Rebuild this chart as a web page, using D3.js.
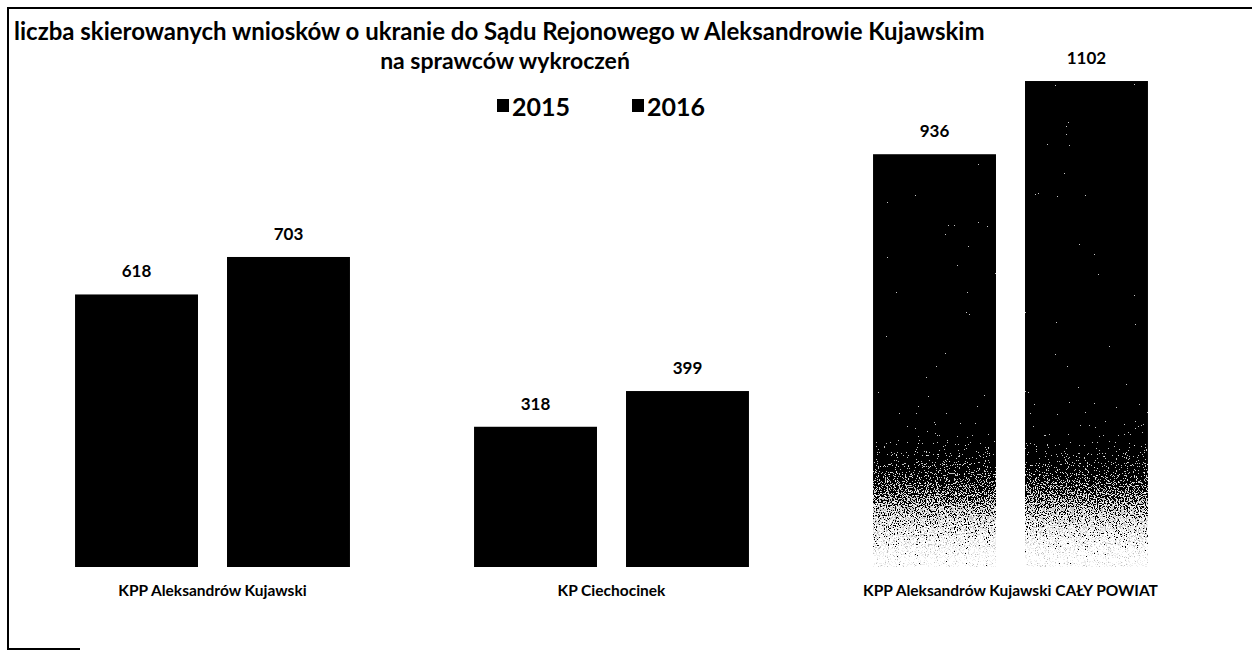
<!DOCTYPE html>
<html lang="pl">
<head>
<meta charset="UTF-8">
<title>Liczba skierowanych wniosków o ukaranie</title>
<script src="https://d3js.org/d3.v7.min.js"></script>
<style>
html, body {
  margin: 0;
  padding: 0;
  background-color: white;
}
body {
  font-family: 'Lato', 'Open Sans', sans-serif;
}
.title {
  font-weight: bold;
  font-size: 24px;
  fill: #000;
}
.subtitle {
  font-weight: bold;
  font-size: 23px;
  fill: #000;
}
.legend text {
  font-weight: bold;
  font-size: 25px;
}
.value {
  font-weight: bold;
  font-size: 17px;
  text-anchor: middle;
}
.cat {
  font-weight: bold;
  font-size: 15.5px;
  text-anchor: middle;
}
</style>
</head>
<body>
<div id="chart"></div>
<script>

// --------------------------------------
// Data
// --------------------------------------

const categories = ["KPP Aleksandrów Kujawski", "KP Ciechocinek", "KPP Aleksandrów Kujawski CAŁY POWIAT"];
const years = ["2015", "2016"];
const values2015 = [618, 318, 936];
const values2016 = [703, 399, 1102];

const data = categories.map((c, i) => ({
  cat: c,
  i: i,
  bars: [
    {year: years[0], value: values2015[i], cat: i},
    {year: years[1], value: values2016[i], cat: i}
  ]
}));

// --------------------------------------
// Size
// --------------------------------------

let totalWidth = 1252;
let totalHeight = 651;

let svg = d3.select('#chart')
  .append("svg")
  .attr("width", totalWidth)
  .attr("height", totalHeight);

// fading dither for the last group (scan artefact)
let defs = svg.append("defs");

let grad = defs.append("linearGradient")
  .attr("id", "fade")
  .attr("gradientUnits", "userSpaceOnUse")
  .attr("x1", 0).attr("x2", 0)
  .attr("y1", 362).attr("y2", 558);

grad.append("stop").attr("offset", "0%").attr("stop-color", "#000");
grad.append("stop").attr("offset", "22%").attr("stop-color", "#3a3a3a");
grad.append("stop").attr("offset", "50%").attr("stop-color", "#8c8c8c");
grad.append("stop").attr("offset", "75%").attr("stop-color", "#d0d0d0");
grad.append("stop").attr("offset", "100%").attr("stop-color", "#ffffff");

let filt = defs.append("filter")
  .attr("id", "dither")
  .attr("x", 0).attr("y", 0)
  .attr("width", 1).attr("height", 1);

filt.append("feTurbulence")
  .attr("type", "fractalNoise")
  .attr("baseFrequency", 0.9)
  .attr("numOctaves", 2)
  .attr("seed", 3)
  .attr("result", "noise");

filt.append("feColorMatrix")
  .attr("in", "noise")
  .attr("type", "matrix")
  .attr("values", "1 0 0 0 0  1 0 0 0 0  1 0 0 0 0  0 0 0 0 1")
  .attr("result", "grayNoise");

filt.append("feComposite")
  .attr("in", "SourceGraphic")
  .attr("in2", "grayNoise")
  .attr("operator", "arithmetic")
  .attr("k1", 0).attr("k2", 1.3).attr("k3", 2).attr("k4", -1.3)
  .attr("result", "mix");

let ct = filt.append("feComponentTransfer")
  .attr("in", "mix")
  .attr("result", "bw");
["feFuncR", "feFuncG", "feFuncB"].forEach(f => {
  ct.append(f).attr("type", "discrete").attr("tableValues", "0 0 0.55 0.85 1");
});
ct.append("feFuncA").attr("type", "linear").attr("slope", 0).attr("intercept", 1);

filt.append("feComposite")
  .attr("in", "bw")
  .attr("in2", "SourceAlpha")
  .attr("operator", "in");

// --------------------------------------
// Frame (scanned page border)
// --------------------------------------

svg.append("line")
  .attr("x1", 8).attr("x2", 1252).attr("y1", 8).attr("y2", 8)
  .attr("stroke", "#000").attr("stroke-width", 2);
svg.append("line")
  .attr("x1", 8).attr("x2", 8).attr("y1", 7).attr("y2", 650)
  .attr("stroke", "#000").attr("stroke-width", 2);
svg.append("line")
  .attr("x1", 8).attr("x2", 80).attr("y1", 649).attr("y2", 649)
  .attr("stroke", "#000").attr("stroke-width", 2);

// --------------------------------------
// Title
// --------------------------------------

svg.append("text")
  .attr("class", "title")
  .attr("x", 14)
  .attr("y", 40)
  .text("liczba skierowanych wniosków o ukranie do Sądu Rejonowego w Aleksandrowie Kujawskim");

svg.append("text")
  .attr("class", "subtitle")
  .attr("x", 505)
  .attr("y", 69)
  .attr("text-anchor", "middle")
  .text("na sprawców wykroczeń");

// --------------------------------------
// Legend
// --------------------------------------

let legend = svg.append("g")
  .attr("class", "legend")
  .selectAll("g")
  .data(years)
  .join("g")
  .attr("transform", (d, i) => `translate(${497 + i * 135},98)`);

legend.append("rect")
  .attr("width", 12)
  .attr("height", 13)
  .attr("y", 1)
  .attr("fill", "#000");

legend.append("text")
  .attr("x", 15)
  .attr("y", 18)
  .text(d => d);

// --------------------------------------
// Scales
// --------------------------------------

let x0 = d3.scaleBand()
  .domain(d3.range(categories.length))
  .range([13, 1210])
  .paddingInner(0.311)
  .paddingOuter(0.1555);

let x1 = d3.scaleBand()
  .domain(years)
  .range([0, x0.bandwidth()])
  .paddingInner(0.191)
  .paddingOuter(0);

let y = d3.scaleLinear()
  .domain([0, 1200])
  .range([567, 37.8]);

// --------------------------------------
// Bars
// --------------------------------------

let groups = svg.append("g")
  .selectAll("g")
  .data(data)
  .join("g")
  .attr("transform", d => `translate(${x0(d.i)},0)`);

groups.selectAll("rect")
  .data(d => d.bars)
  .join("rect")
  .attr("x", d => x1(d.year))
  .attr("y", d => y(d.value))
  .attr("width", x1.bandwidth())
  .attr("height", d => y(0) - y(d.value))
  .attr("fill", d => d.cat === 2 ? "url(#fade)" : "#000")
  .attr("filter", d => d.cat === 2 ? "url(#dither)" : null);

groups.selectAll(".value")
  .data(d => d.bars)
  .join("text")
  .attr("class", "value")
  .attr("x", d => x1(d.year) + x1.bandwidth() / 2)
  .attr("y", d => y(d.value) - 17)
  .text(d => d.value);

// --------------------------------------
// Category labels
// --------------------------------------

groups.append("text")
  .attr("class", "cat")
  .attr("x", x0.bandwidth() / 2)
  .attr("y", 596)
  .text(d => d.cat);

</script>
</body>
</html>
